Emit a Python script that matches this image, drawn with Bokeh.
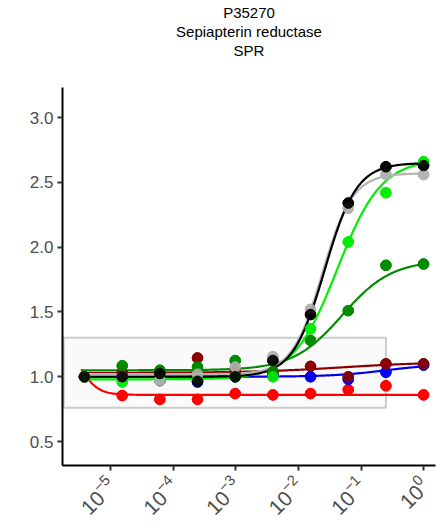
import numpy as np
from bokeh.plotting import figure
from bokeh.models import Range1d, FixedTicker, Title, PrintfTickFormatter
from bokeh.embed import file_html
from bokeh.resources import INLINE

# concentrations (4-fold dilution series)
conc = [3.81e-6, 1.53e-5, 6.10e-5, 2.44e-4, 9.77e-4, 3.91e-3, 1.56e-2, 6.25e-2, 0.25, 1.0]

series_names = ["red", "blue", "darkred", "darkgreen", "green", "gray", "black"]
series_colors = ["#ff0000", "#0000ee", "#8b0000", "#008b00", "#00ee00", "#b3b3b3", "#000000"]

red_vals = [1.0, 0.855, 0.825, 0.825, 0.87, 0.86, 0.87, 0.90, 0.93, 0.86]
blue_vals = [1.0, 1.0, 0.97, 0.96, 1.0, 1.015, 1.0, 0.98, 1.035, 1.09]
darkred_vals = [1.0, 1.03, 1.03, 1.145, 1.04, 1.035, 1.08, 1.0, 1.10, 1.10]
darkgreen_vals = [1.0, 1.085, 1.05, 1.075, 1.125, 1.04, 1.28, 1.51, 1.86, 1.87]
green_vals = [1.0, 0.96, 0.98, 0.98, 1.0, 1.0, 1.37, 2.04, 2.42, 2.66]
gray_vals = [1.0, 1.0, 0.97, 1.02, 1.075, 1.155, 1.52, 2.30, 2.56, 2.56]
black_vals = [1.0, 1.0, 1.025, 0.965, 1.0, 1.125, 1.48, 2.34, 2.62, 2.63]

# fitted 4-parameter log-logistic curve parameters per series
fit_low = [1.3, 1.0, 1.03, 1.05, 0.98, 1.02, 1.0]
fit_high = [0.86, 1.1, 1.115, 1.9, 2.68, 2.57, 2.65]
fit_logec50 = [-5.5, -0.6, -1.3, -1.3, -1.38, -1.62, -1.58]
fit_hill = [3.0, 1.0, 0.6, 1.1, 1.23, 1.8, 1.7]
curve_logx_start, curve_logx_end = -5.47, 0.0

# box marking the baseline region
box_left, box_right, box_bottom, box_top = 10 ** -5.75, 0.25, 0.76, 1.30

y_ticks = [0.5, 1.0, 1.5, 2.0, 2.5, 3.0]
x_ticks = [1e-5, 1e-4, 1e-3, 1e-2, 1e-1, 1e0]

title_lines = ["P35270", "Sepiapterin reductase", "SPR"]

all_vals = [red_vals, blue_vals, darkred_vals, darkgreen_vals, green_vals, gray_vals, black_vals]

p = figure(width=436, height=526, x_axis_type="log", output_backend="svg",
           toolbar_location=None, title=None,
           x_range=Range1d(10 ** -5.77, 10 ** 0.19), y_range=Range1d(0.315, 3.232),
           min_border_left=62, min_border_right=1, min_border_bottom=61, min_border_top=87)

# spacer between the title block and the plot frame
p.add_layout(Title(text=" ", text_font_size="24px", standoff=0, offset=0), "above")
for line in reversed(title_lines):
    t = Title(text=line, align="center", text_font="Liberation Sans",
              text_font_size="15px", text_font_style="normal", text_color="#000000",
              standoff=0, offset=0)
    p.add_layout(t, "above")

p.background_fill_color = "white"
p.border_fill_color = "white"
p.outline_line_color = None
p.xgrid.visible = False
p.ygrid.visible = False

p.quad(left=[box_left], right=[box_right], bottom=[box_bottom], top=[box_top],
       fill_color="#fafafa", line_color="#cccccc", line_width=2)

lx = np.linspace(curve_logx_start, curve_logx_end, 300)
for i, vals in enumerate(all_vals):
    p.scatter(conc, vals, size=10.5, color=series_colors[i], alpha=0.9)
for i, vals in enumerate(all_vals):
    yy = fit_low[i] + (fit_high[i] - fit_low[i]) / (1 + 10 ** ((fit_logec50[i] - lx) * fit_hill[i]))
    p.line(10 ** lx, yy, color=series_colors[i], line_width=2.2)
for i, vals in enumerate(all_vals):
    p.scatter(conc, vals, size=10.5, color=series_colors[i], alpha=0.9)

for ax in (p.xaxis[0], p.yaxis[0]):
    ax.axis_line_color = "black"
    ax.axis_line_width = 2
    ax.major_tick_line_color = "#333333"
    ax.major_tick_line_width = 2
    ax.major_tick_out = 5
    ax.major_tick_in = 0
    ax.minor_tick_line_color = None
    ax.major_label_text_color = "#4d4d4d"
    ax.major_label_text_font = "Liberation Sans"
    ax.major_label_text_font_size = "17px"

p.xaxis.major_label_text_font_size = "21px"
p.yaxis.ticker = FixedTicker(ticks=y_ticks)
p.yaxis.formatter = PrintfTickFormatter(format="%.1f")
p.xaxis.ticker = FixedTicker(ticks=x_ticks)
p.xaxis.major_label_orientation = np.pi / 4
p.yaxis.major_label_standoff = 4
p.xaxis.major_label_standoff = 10

open("out.html", "w").write(file_html(p, INLINE))
